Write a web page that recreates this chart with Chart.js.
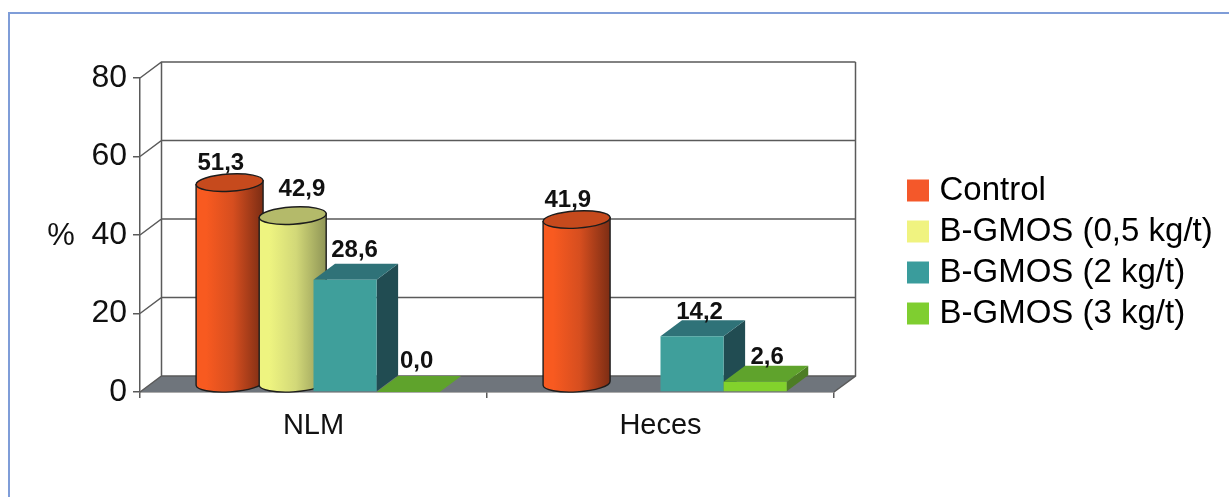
<!DOCTYPE html>
<html lang="es">
<head>
  <meta charset="UTF-8">
  <title>NLM / Heces</title>
  <style>
    * { box-sizing: border-box; margin: 0; padding: 0; }
    html, body { width: 1229px; height: 497px; overflow: hidden; background: #fff; }
    .frame { position: absolute; left: 8px; top: 12px; width: 1300px; height: 600px; border: 2px solid #7f9dd8; }
    .chart-box { position: absolute; left: 0; top: 0; width: 1229px; height: 497px; }
  </style>
</head>
<body>
  <div class="frame"></div>
  <div class="chart-box"><canvas id="chart"></canvas></div>

  <script src="https://cdn.jsdelivr.net/npm/chart.js"></script>
  <script>
    const categories = ['NLM', 'Heces'];
    const seriesNames = ['Control', 'B-GMOS (0,5 kg/t)', 'B-GMOS (2 kg/t)', 'B-GMOS (3 kg/t)'];
    const control = [51.3, 41.9];
    const gmos05 = [42.9, null];
    const gmos2 = [28.6, 14.2];
    const gmos3 = [0.0, 2.6];
    const yTicks = [0, 20, 40, 60, 80];

    const legendColors = ['#f4582a', '#f0f380', '#3a9c9c', '#7fce30'];

    // faces of each series: [light, mid, dark] for cylinders, [front, top, side] for boxes
    const faces = [
      { shape: 'cyl', stops: ['#f85a20', '#d64e1f', '#7c2d14'], top: '#c64a1d' },
      { shape: 'cyl', stops: ['#eef480', '#d2d878', '#8f9556'], top: '#b4ba6a' },
      { shape: 'box', front: '#3f9f9b', top: '#2f7278', side: '#214c52' },
      { shape: 'box', front: '#82d22c', top: '#5fa32c', side: '#4d7d25' }
    ];

    // fake 3D depth of the plot box
    const depthX = 21.5, depthY = 16;
    const gridColor = '#5a5a5a';
    const inkColor = '#111';
    const fontName = '"Liberation Sans", Arial, sans-serif';

    // hand placed labels in the original, [dx, dy] per series per category
    const labelNudge = [
      [[2, -21], [2, -21]],
      [[20, -28], [0, 0]],
      [[9.5, -23], [7.5, -17]],
      [[8.5, -24], [12, -18]]
    ];

    function fmt(v) { return v.toFixed(1).replace('.', ','); }

    function drawWalls(chart) {
      const ctx = chart.ctx;
      const { left, right, top, bottom } = chart.chartArea;
      const y = chart.scales.y;

      // floor
      ctx.fillStyle = '#6f757c';
      ctx.beginPath();
      ctx.moveTo(left, bottom);
      ctx.lineTo(left + depthX, bottom - depthY);
      ctx.lineTo(right + depthX, bottom - depthY);
      ctx.lineTo(right, bottom);
      ctx.closePath();
      ctx.fill();

      ctx.strokeStyle = gridColor;
      ctx.lineWidth = 1.5;
      ctx.beginPath();
      y.ticks.forEach(t => {
        const py = y.getPixelForValue(t.value);
        ctx.moveTo(left, py);
        ctx.lineTo(left + depthX, py - depthY);
        ctx.lineTo(right + depthX, py - depthY);
      });
      ctx.moveTo(left + depthX, top - depthY);
      ctx.lineTo(left + depthX, bottom - depthY);
      ctx.moveTo(right + depthX, top - depthY);
      ctx.lineTo(right + depthX, bottom - depthY);
      ctx.lineTo(right, bottom);
      ctx.stroke();
    }

    function drawCylinder(ctx, bar, face) {
      const cx = bar.x + depthX / 2;
      const rx = bar.width / 2 + 2;
      const ry = 8.6;
      const tilt = -0.06;
      const topY = bar.y - depthY / 2;
      const baseY = bar.base - depthY / 2;
      const cos = Math.cos(tilt) * rx, sin = Math.sin(tilt) * rx;

      const grad = ctx.createLinearGradient(cx - rx, 0, cx + rx, 0);
      grad.addColorStop(0, face.stops[0]);
      grad.addColorStop(0.15, face.stops[0]);
      grad.addColorStop(0.55, face.stops[1]);
      grad.addColorStop(1, face.stops[2]);

      ctx.strokeStyle = '#1c1c1c';
      ctx.lineWidth = 1.4;
      ctx.fillStyle = grad;
      ctx.beginPath();
      ctx.moveTo(cx - cos, topY - sin);
      ctx.lineTo(cx - cos, baseY - sin);
      ctx.ellipse(cx, baseY, rx, ry, tilt, Math.PI, 0, true);
      ctx.lineTo(cx + cos, topY + sin);
      ctx.closePath();
      ctx.fill();
      ctx.stroke();

      ctx.fillStyle = face.top;
      ctx.beginPath();
      ctx.ellipse(cx, topY, rx, ry, tilt, 0, Math.PI * 2);
      ctx.fill();
      ctx.stroke();
    }

    function drawBox(ctx, bar, face) {
      const l = bar.x - bar.width / 2, r = bar.x + bar.width / 2;
      const t = bar.y, b = bar.base;

      ctx.fillStyle = face.side;
      ctx.beginPath();
      ctx.moveTo(r, t);
      ctx.lineTo(r + depthX, t - depthY);
      ctx.lineTo(r + depthX, b - depthY);
      ctx.lineTo(r, b);
      ctx.closePath();
      ctx.fill();

      ctx.fillStyle = face.top;
      ctx.beginPath();
      ctx.moveTo(l, t);
      ctx.lineTo(l + depthX, t - depthY);
      ctx.lineTo(r + depthX, t - depthY);
      ctx.lineTo(r, t);
      ctx.closePath();
      ctx.fill();

      ctx.fillStyle = face.front;
      ctx.fillRect(l, t, bar.width, b - t);
    }

    const bars3d = {
      id: 'bars3d',
      afterLayout(chart) {
        // legend sits away from the plot, with a gap the box model can't give
        const leg = chart.legend;
        leg.left = 905;
        leg.right = chart.width;
        leg.top = 166;
        leg.bottom = chart.height;
      },
      beforeDatasetsDraw(chart) {
        const ctx = chart.ctx;
        ctx.save();
        drawWalls(chart);

        categories.forEach((c, i) => {
          chart.data.datasets.forEach((ds, d) => {
            if (ds.data[i] === null) return;
            const bar = chart.getDatasetMeta(d).data[i].getProps(['x', 'y', 'base', 'width'], true);
            if (faces[d].shape === 'cyl') drawCylinder(ctx, bar, faces[d]);
            else drawBox(ctx, bar, faces[d]);
          });
        });

        // value labels
        ctx.fillStyle = inkColor;
        ctx.font = 'bold 24px ' + fontName;
        ctx.textAlign = 'center';
        ctx.textBaseline = 'alphabetic';
        chart.data.datasets.forEach((ds, d) => {
          ds.data.forEach((v, i) => {
            if (v === null) return;
            const bar = chart.getDatasetMeta(d).data[i].getProps(['x', 'y'], true);
            const n = labelNudge[d][i];
            ctx.fillText(fmt(v), bar.x + n[0], bar.y + n[1]);
          });
        });

        // the % sits horizontally, a scale title would be rotated
        ctx.font = '31px ' + fontName;
        ctx.textBaseline = 'middle';
        ctx.fillText('%', 61, chart.scales.y.getPixelForValue(40) + 1);
        ctx.restore();

        return false; // native flat bars are replaced by the ones above
      }
    };

    const seriesValues = [control, gmos05, gmos2, gmos3];

    new Chart(document.getElementById('chart').getContext('2d'), {
      type: 'bar',
      data: {
        labels: categories,
        datasets: seriesNames.map((name, i) => ({
          label: name,
          data: seriesValues[i],
          backgroundColor: legendColors[i]
        }))
      },
      options: {
        responsive: true,
        maintainAspectRatio: false,
        animation: false,
        categoryPercentage: 0.7275,
        barPercentage: 1,
        layout: { padding: { top: 78, bottom: 45, right: 117 } },
        plugins: {
          tooltip: { enabled: false },
          legend: {
            position: 'right',
            align: 'start',
            labels: {
              color: inkColor,
              font: { family: fontName, size: 33 },
              boxWidth: 10,
              boxHeight: 10,
              padding: 8,
              generateLabels: chart => chart.data.datasets.map((ds, i) => ({
                text: ds.label,
                fillStyle: legendColors[i],
                strokeStyle: legendColors[i],
                lineWidth: 12,
                datasetIndex: i
              }))
            }
          }
        },
        scales: {
          x: {
            grid: { drawOnChartArea: false, color: gridColor, lineWidth: 1.5, tickLength: 6 },
            border: { color: gridColor, width: 1.5 },
            ticks: { color: inkColor, padding: 11, font: { family: fontName, size: 29 } },
            afterFit(scale) { scale.height = 60; }
          },
          y: {
            min: 0,
            max: 80,
            grid: { drawOnChartArea: false, color: gridColor, lineWidth: 1.5, tickLength: 7 },
            border: { color: gridColor, width: 1.5 },
            ticks: {
              color: inkColor,
              padding: 6,
              font: { family: fontName, size: 32 },
              callback: v => yTicks.includes(v) ? v : null,
              stepSize: 20
            },
            afterFit(scale) { scale.width = 140; }
          }
        }
      },
      plugins: [bars3d]
    });
  </script>
</body>
</html>
